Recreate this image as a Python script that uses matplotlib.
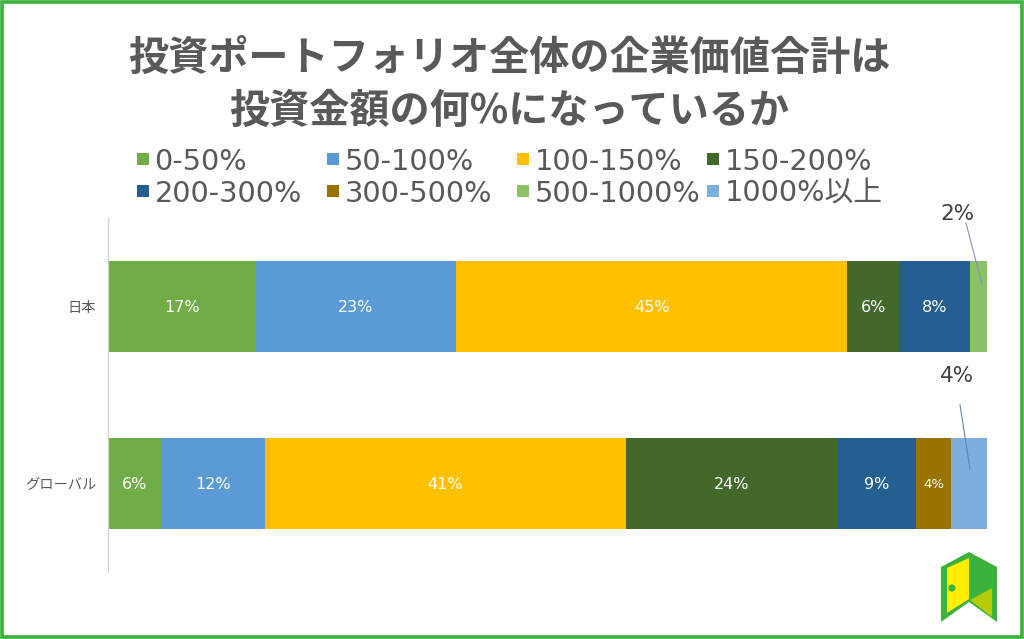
import matplotlib
matplotlib.use('Agg')
import matplotlib.pyplot as plt
from matplotlib.patches import Polygon, Rectangle, Circle
import numpy as np

plt.rcParams['font.family'] = ['DejaVu Sans', 'Noto Sans CJK JP']

# dados
categorias = ['日本', 'グローバル']
faixas = ['0-50%', '50-100%', '100-150%', '150-200%', '200-300%', '300-500%', '500-1000%', '1000%以上']
cores = ['#70AD47', '#5B9BD5', '#FFC000', '#43682B', '#255E91', '#997300', '#8CC168', '#7CAFDD']
japao = [16.8, 22.8, 44.51, 5.9, 8.0, 0, 2.0, 0]
global_ = [6.0, 11.9, 41.0, 24.0, 9.0, 4.0, 0, 4.1]
titulo = ['投資ポートフォリオ全体の企業価値合計は', '投資金額の何%になっているか']

VERDE = '#3CB13C'
CINZA = '#595959'

fig = plt.figure(figsize=(10.24, 6.39), dpi=100)

# camada em pixels para borda, titulo, legenda e logo
fundo = fig.add_axes([0, 0, 1, 1])
fundo.set_xlim(0, 1024)
fundo.set_ylim(639, 0)
fundo.axis('off')
fundo.set_zorder(3)

fundo.add_patch(Rectangle((1.7, 1.7), 1020.6, 635.5, fill=False, ec=VERDE, lw=2.6))

for i, linha in enumerate(titulo):
    fundo.text(509, 58 + i * 53, linha, ha='center', va='center', fontsize=28.9,
               color=CINZA, fontweight='bold', family=['Noto Sans CJK JP', 'DejaVu Sans'])

# legenda manual, as colunas tem largura igual
for i, (faixa, cor) in enumerate(zip(faixas, cores)):
    x = 135 + (i % 4) * 190
    y = 159 + (i // 4) * 32
    fundo.add_patch(Rectangle((x + 2, y - 6), 12, 12, color=cor, lw=0))
    fundo.text(x + 19.5, y + 11, faixa, ha='left', va='baseline', fontsize=20.7, color=CINZA)

# logo
fundo.add_patch(Polygon([(941, 567), (969, 552), (997, 567), (997, 622), (969, 602), (941, 622)], color=VERDE, lw=0))
fundo.add_patch(Polygon([(947, 568), (969, 558), (969, 599), (947, 613)], color='#FFEE00', lw=0))
fundo.add_patch(Polygon([(970, 600), (992, 588), (992, 617)], color='#B5CC0A', lw=0))
fundo.add_patch(Circle((952, 588), 3.6, color=VERDE, lw=0))

# linhas de chamada e rotulos externos
fundo.plot([966, 982], [223, 284], color='#7F93B5', lw=0.8)
fundo.plot([960, 970], [405, 469], color='#5F84B5', lw=0.8)
fundo.text(957, 214, '2%', ha='center', va='center', fontsize=15.5, color='#404040')
fundo.text(957, 376, '4%', ha='center', va='center', fontsize=15.5, color='#404040')

ax = fig.add_axes([108 / 1024, 1 - 572 / 639, 879 / 1024, 354 / 639])
ax.patch.set_alpha(0)
y_pos = np.arange(len(categorias))
esquerda = np.zeros(len(categorias))
valores = np.array([japao, global_])

for j, (faixa, cor) in enumerate(zip(faixas, cores)):
    larguras = valores[:, j]
    ax.barh(y_pos, larguras, left=esquerda, height=0.51, color=cor, label=faixa)
    for k, v in enumerate(larguras):
        # os segmentos 500-1000% e 1000%以上 tem rotulo fora da barra
        if v == 0 or j >= 6:
            continue
        tamanho = 9.5 if v < 5 else 11.5
        ax.text(esquerda[k] + v / 2, k + 0.005, f'{v:.0f}%', ha='center', va='center',
                color='white', fontsize=tamanho)
    esquerda += larguras

ax.set_xlim(0, 100)
ax.set_ylim(1.5, -0.5)
ax.set_xticks([])
ax.set_yticks(y_pos)
ax.set_yticklabels(categorias, fontsize=10.3, color=CINZA)
for rotulo in ax.get_yticklabels():
    rotulo.set_family(['Noto Sans CJK JP', 'DejaVu Sans'])
ax.tick_params(axis='y', length=0, pad=8.5)
for lado in ['top', 'right', 'bottom']:
    ax.spines[lado].set_visible(False)
ax.spines['left'].set_color('#D0D0D0')
ax.spines['left'].set_linewidth(0.9)

fig.savefig('out.png', dpi=100)
